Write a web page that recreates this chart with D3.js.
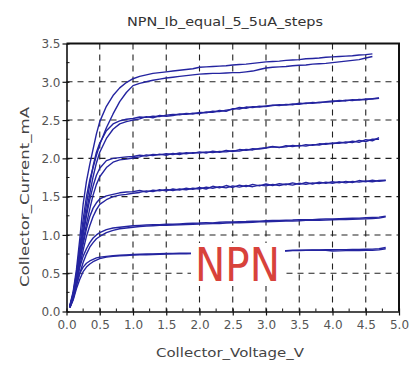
<!DOCTYPE html>
<html>
<head>
<meta charset="utf-8">
<script src="https://cdn.jsdelivr.net/npm/d3@7"></script>
<style>
  html, body { margin: 0; padding: 0; background: #fff; }
  svg { display: block; }
  text { font-family: "DejaVu Sans", Verdana, sans-serif; }
</style>
</head>
<body>
<svg id="chart" width="417" height="370"></svg>
<script>
// Collector sweep voltages (V) shared by every trace
const voltage = [0.05,0.1,0.15,0.2,0.25,0.3,0.35,0.4,0.45,0.5,0.6,0.7,0.8,0.9,
  1.0,1.1,1.2,1.3,1.4,1.5,1.6,1.7,1.8,1.9,
  2.0,2.1,2.2,2.3,2.4,2.5,2.6,2.7,2.8,2.9,
  3.0,3.1,3.2,3.3,3.4,3.5,3.6,3.7,3.8,3.9,
  4.0,4.1,4.2,4.3,4.4,4.5,4.6,4.7,4.8];

// Collector current (mA), one pair of sweeps (up / down) per base-current step
const ib1Up = [0.06,0.18,0.36,0.50,0.58,0.63,0.66,0.68,0.70,0.71,0.72,0.73,0.735,0.74,
  0.745,0.748,0.75,0.752,0.755,0.757,0.758,0.76,0.76,0.762,
  0.765,0.767,0.77,0.772,0.774,0.776,0.778,0.78,0.782,0.784,
  0.786,0.788,0.79,0.795,0.80,0.80,0.802,0.804,0.805,0.806,
  0.806,0.808,0.808,0.81,0.81,0.812,0.815,0.82,0.835];
const ib1Down = [0.05,0.15,0.30,0.42,0.52,0.58,0.62,0.65,0.67,0.69,0.71,0.72,0.728,0.732,
  0.736,0.74,0.742,0.745,0.748,0.75,0.752,0.753,0.755,0.756,
  0.758,0.76,0.762,0.764,0.766,0.768,0.77,0.772,0.775,0.777,
  0.78,0.782,0.785,0.79,0.795,0.797,0.80,0.80,0.80,0.80,
  0.79,0.792,0.795,0.795,0.797,0.80,0.80,0.805,0.82];

const ib2Up = [0.06,0.18,0.38,0.58,0.72,0.82,0.90,0.96,1.00,1.03,1.07,1.09,1.10,1.11,
  1.12,1.125,1.13,1.132,1.135,1.14,1.14,1.145,1.15,1.152,
  1.155,1.16,1.158,1.165,1.17,1.168,1.172,1.175,1.18,1.178,
  1.185,1.19,1.188,1.192,1.195,1.20,1.198,1.20,1.205,1.21,
  1.21,1.212,1.215,1.218,1.22,1.225,1.228,1.232,1.245];
const ib2Down = [0.05,0.16,0.34,0.50,0.64,0.75,0.84,0.90,0.95,0.98,1.03,1.06,1.08,1.09,
  1.10,1.11,1.115,1.12,1.125,1.125,1.13,1.132,1.135,1.14,
  1.142,1.145,1.15,1.15,1.155,1.16,1.16,1.162,1.165,1.17,
  1.172,1.175,1.178,1.18,1.182,1.185,1.19,1.19,1.192,1.195,
  1.198,1.20,1.202,1.205,1.208,1.21,1.215,1.22,1.235];

const ib3Up = [0.06,0.20,0.42,0.66,0.88,1.08,1.24,1.35,1.42,1.47,1.51,1.53,1.55,1.56,
  1.565,1.58,1.56,1.585,1.575,1.595,1.58,1.60,1.59,1.61,
  1.60,1.625,1.61,1.63,1.615,1.64,1.625,1.645,1.63,1.65,
  1.64,1.66,1.645,1.665,1.65,1.675,1.66,1.68,1.67,1.69,
  1.675,1.695,1.68,1.70,1.69,1.705,1.695,1.71,1.715];
const ib3Down = [0.05,0.18,0.38,0.60,0.80,0.98,1.12,1.24,1.33,1.40,1.46,1.50,1.52,1.53,
  1.545,1.555,1.575,1.565,1.59,1.575,1.60,1.585,1.61,1.595,
  1.62,1.60,1.635,1.615,1.645,1.62,1.65,1.63,1.66,1.64,
  1.665,1.645,1.67,1.655,1.68,1.66,1.685,1.665,1.69,1.675,
  1.695,1.68,1.70,1.685,1.71,1.695,1.715,1.70,1.71];

const ib4Up = [0.07,0.22,0.46,0.74,1.00,1.25,1.46,1.64,1.78,1.87,1.97,2.00,2.01,2.02,
  2.025,2.04,2.03,2.05,2.045,2.06,2.05,2.07,2.06,2.075,
  2.07,2.085,2.075,2.09,2.085,2.10,2.095,2.115,2.11,2.13,
  2.14,2.155,2.14,2.165,2.155,2.17,2.16,2.18,2.175,2.195,
  2.19,2.21,2.20,2.225,2.21,2.245,2.23,2.27];
const ib4Down = [0.06,0.20,0.42,0.68,0.92,1.14,1.34,1.52,1.66,1.76,1.88,1.95,1.98,1.99,
  2.005,2.02,2.045,2.035,2.055,2.04,2.065,2.05,2.075,2.065,
  2.085,2.07,2.095,2.08,2.105,2.09,2.115,2.105,2.125,2.12,
  2.135,2.15,2.145,2.15,2.17,2.16,2.18,2.17,2.19,2.185,
  2.20,2.195,2.215,2.205,2.235,2.22,2.25,2.25];

const ib5Up = [0.07,0.24,0.50,0.80,1.10,1.40,1.66,1.90,2.08,2.20,2.36,2.45,2.49,2.51,
  2.52,2.54,2.535,2.55,2.545,2.565,2.575,2.57,2.585,2.58,
  2.60,2.595,2.615,2.61,2.63,2.64,2.665,2.655,2.675,2.67,
  2.685,2.695,2.69,2.705,2.70,2.72,2.715,2.73,2.725,2.74,
  2.75,2.745,2.76,2.755,2.77,2.765,2.78,2.79];
const ib5Down = [0.06,0.22,0.46,0.74,1.02,1.30,1.54,1.76,1.94,2.08,2.26,2.38,2.45,2.48,
  2.50,2.515,2.545,2.53,2.56,2.55,2.56,2.58,2.575,2.59,
  2.585,2.605,2.60,2.625,2.615,2.65,2.645,2.67,2.665,2.68,
  2.675,2.69,2.70,2.695,2.71,2.705,2.725,2.72,2.735,2.735,
  2.74,2.755,2.75,2.765,2.76,2.775,2.775,2.785];

const ib6Up = [0.08,0.26,0.55,0.95,1.40,1.70,1.92,2.12,2.32,2.48,2.68,2.82,2.92,2.99,
  3.04,3.07,3.09,3.11,3.12,3.13,3.14,3.15,3.16,3.17,
  3.19,3.195,3.20,3.205,3.21,3.22,3.225,3.23,3.24,3.25,
  3.26,3.265,3.27,3.28,3.285,3.29,3.30,3.305,3.31,3.32,
  3.325,3.33,3.335,3.34,3.35,3.355,3.365];
const ib6Down = [0.07,0.22,0.48,0.85,1.20,1.50,1.72,1.88,2.04,2.18,2.40,2.58,2.74,2.86,
  2.95,2.98,3.00,3.02,3.035,3.05,3.06,3.07,3.08,3.09,
  3.10,3.105,3.11,3.11,3.115,3.12,3.12,3.13,3.14,3.16,
  3.18,3.19,3.195,3.20,3.21,3.215,3.22,3.23,3.235,3.24,
  3.25,3.26,3.27,3.28,3.29,3.31,3.33];

const traces = [ib1Up, ib1Down, ib2Up, ib2Down, ib3Up, ib3Down,
                ib4Up, ib4Down, ib5Up, ib5Down, ib6Up, ib6Down];

// Axis ticks
const xTicks = [0,0.5,1,1.5,2,2.5,3,3.5,4,4.5,5];
const yTicks = [0,0.5,1,1.5,2,2.5,3,3.5];
const xMinor = [0.25,0.75,1.25,1.75,2.25,2.75,3.25,3.75,4.25,4.75];
const yMinor = [0.25,0.75,1.25,1.75,2.25,2.75,3.25];

const titleText = "NPN_Ib_equal_5_5uA_steps";
const xLabel = "Collector_Voltage_V";
const yLabel = "Collector_Current_mA";
const badge = "NPN";

const svg = d3.select("#chart");
const L = 66.5, R = 399, T = 43.5, B = 311.5;
const x = d3.scaleLinear().domain([0, 5]).range([L, R]);
const y = d3.scaleLinear().domain([0, 3.5]).range([B, T]);

svg.append("rect").attr("width", 417).attr("height", 370).attr("fill", "#fff");

// dashed grid
const grid = svg.append("g").attr("stroke", "#222").attr("stroke-width", 1.1)
  .attr("stroke-dasharray", "6,5");
grid.selectAll("line.gx").data(xTicks.filter(d => d > 0 && d < 5)).join("line")
  .attr("class", "gx")
  .attr("x1", d => x(d)).attr("x2", d => x(d)).attr("y1", T).attr("y2", B);
grid.selectAll("line.gy").data(yTicks.filter(d => d > 0 && d < 3.5)).join("line")
  .attr("class", "gy")
  .attr("x1", L).attr("x2", R).attr("y1", d => y(d)).attr("y2", d => y(d));

// curves: each sweep drawn as a dark stroke
const line = d3.line().x((d, i) => x(voltage[i])).y(d => y(d)).curve(d3.curveLinear);
svg.append("g").selectAll("path").data(traces).join("path")
  .attr("d", d => line(d))
  .attr("fill", "none")
  .attr("stroke", "#2424a0")
  .attr("stroke-width", 1.4)
  .attr("stroke-linejoin", "round");

// NPN badge with white backing
const badgeG = svg.append("g");
badgeG.append("rect").attr("x", 191).attr("y", 243).attr("width", 94).attr("height", 43).attr("fill", "#fff");
badgeG.append("text").attr("x", 195).attr("y", 281)
  .attr("font-family", "'Liberation Sans', Arial, sans-serif")
  .attr("font-size", 47).attr("fill", "#d8423b")
  .attr("textLength", 85).attr("lengthAdjust", "spacingAndGlyphs")
  .text(badge);

// frame
svg.append("line").attr("x1", L).attr("x2", R + 1).attr("y1", T).attr("y2", T).attr("stroke", "#111").attr("stroke-width", 2);
svg.append("line").attr("x1", R).attr("x2", R).attr("y1", T).attr("y2", B).attr("stroke", "#111").attr("stroke-width", 2);

// axes
const xAxis = d3.axisBottom(x).tickValues(xTicks).tickFormat(d3.format(".1f")).tickSizeInner(4).tickSizeOuter(0).tickPadding(5);
const gx = svg.append("g").attr("transform", `translate(0,${B})`).call(xAxis);
const yAxis = d3.axisLeft(y).tickValues(yTicks).tickFormat(d3.format(".1f")).tickSizeInner(4).tickSizeOuter(0).tickPadding(2);
const gy = svg.append("g").attr("transform", `translate(${L},0)`).call(yAxis);
[gx, gy].forEach(g => {
  g.select(".domain").attr("stroke", "#111").attr("stroke-width", 1.6);
  g.selectAll(".tick line").attr("stroke", "#111").attr("stroke-width", 1.2);
  g.selectAll(".tick text").attr("font-family", "'DejaVu Sans', sans-serif").attr("font-size", 12).attr("fill", "#555");
});
gx.selectAll(".tick line").attr("y1", -3);
gy.selectAll(".tick line").attr("x1", 3);
gy.selectAll(".tick text").attr("dy", "0.36em");

// minor ticks
svg.append("g").selectAll("line").data(xMinor).join("line")
  .attr("x1", d => x(d)).attr("x2", d => x(d)).attr("y1", B).attr("y2", B - 3)
  .attr("stroke", "#111").attr("stroke-width", 1);
svg.append("g").selectAll("line").data(yMinor).join("line")
  .attr("x1", L).attr("x2", L + 3).attr("y1", d => y(d)).attr("y2", d => y(d))
  .attr("stroke", "#111").attr("stroke-width", 1);

// titles
svg.append("text").attr("x", 225).attr("y", 26).attr("text-anchor", "middle")
  .attr("font-size", 12.5).attr("fill", "#333")
  .attr("textLength", 196).attr("lengthAdjust", "spacingAndGlyphs").text(titleText);
svg.append("text").attr("x", 230).attr("y", 357).attr("text-anchor", "middle")
  .attr("font-size", 13).attr("fill", "#444")
  .attr("textLength", 148).attr("lengthAdjust", "spacingAndGlyphs").text(xLabel);
svg.append("text").attr("transform", "translate(29,197) rotate(-90)").attr("text-anchor", "middle")
  .attr("font-size", 13).attr("fill", "#444")
  .attr("textLength", 180).attr("lengthAdjust", "spacingAndGlyphs").text(yLabel);
</script>
</body>
</html>
